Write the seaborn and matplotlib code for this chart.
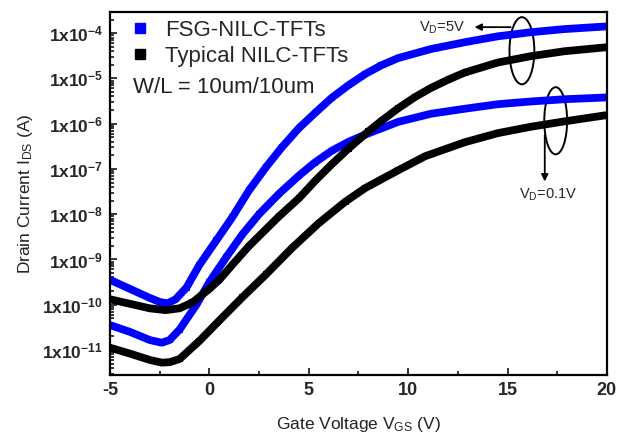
import numpy as np
import pandas as pd
import seaborn as sns
import matplotlib
matplotlib.use('Agg')
import matplotlib.pyplot as plt
from matplotlib.patches import Ellipse
from matplotlib.lines import Line2D
from matplotlib.ticker import LogLocator, MultipleLocator, FixedLocator, NullFormatter

# gate voltage / log10(I_DS) values
fsg_5v_vg = [-5, -4, -3, -2.5, -2.1, -1.7, -1.15, -0.5, 0.35, 1.15, 2, 2.85, 3.65, 4.5,
             5.35, 6.15, 7, 7.85, 8.65, 9.5, 11.15, 12.85, 14.5, 16.15, 17.85, 20]
fsg_5v_log = [-9.45, -9.65, -9.85, -9.94, -9.97, -9.88, -9.62, -9.12, -8.58, -8.07, -7.47,
              -6.96, -6.52, -6.1, -5.75, -5.43, -5.15, -4.9, -4.71, -4.55, -4.35, -4.2,
              -4.07, -3.98, -3.91, -3.85]

fsg_01v_vg = [-5, -4, -3, -2.4, -2, -1.5, -0.65, 0, 0.85, 1.65, 2.5, 3.5, 4.5, 5.3, 6.15,
              7, 7.85, 9.5, 11.15, 12.85, 14.5, 16.15, 17.85, 20]
fsg_01v_log = [-10.45, -10.6, -10.78, -10.84, -10.78, -10.55, -10.0, -9.5, -8.95, -8.45,
               -8.0, -7.55, -7.15, -6.86, -6.6, -6.4, -6.24, -5.96, -5.78, -5.67, -5.57,
               -5.51, -5.46, -5.42]

typ_5v_vg = [-5, -4, -3, -2.2, -1.5, -0.85, 0, 0.5, 1.15, 2, 3.5, 4.5, 5.35, 6.15, 7,
             8, 8.65, 9.5, 10.35, 11.15, 12, 12.85, 14.5, 16.15, 17.85, 20]
typ_5v_log = [-9.88, -9.98, -10.08, -10.12, -10.08, -9.95, -9.65, -9.45, -9.12, -8.7,
              -8.05, -7.65, -7.25, -6.9, -6.55, -6.17, -5.94, -5.66, -5.41, -5.21, -5.03,
              -4.87, -4.65, -4.51, -4.4, -4.31]

typ_01v_vg = [-5, -4, -3, -2.4, -2, -1.5, -0.5, 0.5, 1.65, 2.85, 4.15, 5.5, 6.85, 7.85,
              9.5, 10.85, 12.85, 14.5, 16.15, 17.85, 20]
typ_01v_log = [-10.95, -11.08, -11.22, -11.28, -11.27, -11.2, -10.8, -10.35, -9.84, -9.33,
               -8.75, -8.2, -7.72, -7.42, -7.03, -6.72, -6.41, -6.21, -6.07, -5.95, -5.81]

ytick_exps = [-11, -10, -9, -8, -7, -6, -5, -4]
xticks = [-5, 0, 5, 10, 15, 20]

sns.set_style('ticks')
plt.rcParams['font.family'] = ['Liberation Sans', 'DejaVu Sans']
plt.rcParams['mathtext.fontset'] = 'custom'
plt.rcParams['mathtext.rm'] = 'Liberation Sans'
plt.rcParams['mathtext.it'] = 'Liberation Sans:italic'
plt.rcParams['mathtext.bf'] = 'Liberation Sans:bold'

fig = plt.figure(figsize=(6.18, 4.41), dpi=100)
ax = fig.add_axes([0.178, 0.150, 0.804, 0.823])

blue = '#0000ff'
series = [(fsg_5v_vg, fsg_5v_log, blue), (fsg_01v_vg, fsg_01v_log, blue),
          (typ_5v_vg, typ_5v_log, 'black'), (typ_01v_vg, typ_01v_log, 'black')]
for vg, lg, c in series:
    df = pd.DataFrame({'vg': vg, 'ids': 10.0 ** np.array(lg)})
    sns.lineplot(data=df, x='vg', y='ids', ax=ax, color=c, lw=5.6, marker='s',
                 markersize=5, markeredgewidth=0, solid_capstyle='butt',
                 solid_joinstyle='round')

ax.set_yscale('log')
ax.set_xlim(-5, 20)
ax.set_ylim(10 ** -11.55, 10 ** -3.53)

ax.yaxis.set_major_locator(FixedLocator([10.0 ** e for e in ytick_exps]))
ax.set_yticklabels([r'$\mathbf{1x10^{%d}}$' % e for e in ytick_exps], fontsize=12.5)
ax.yaxis.set_minor_locator(LogLocator(base=10, subs=np.arange(2, 10)))
ax.yaxis.set_minor_formatter(NullFormatter())
ax.set_xticks(xticks)
ax.set_xticklabels([str(v) for v in xticks], fontsize=13, fontweight='bold')
ax.xaxis.set_minor_locator(MultipleLocator(2.5))

ax.tick_params(which='both', direction='in', width=1.3, top=False, right=False)
ax.tick_params(which='major', length=5, pad=5)
ax.tick_params(which='minor', length=3)
for s in ax.spines.values():
    s.set_linewidth(1.6)
    s.set_color('black')

ax.set_xlabel(r'Gate Voltage V$_{\rm GS}$ (V)', fontsize=12.5, labelpad=12, color='#222222')
ax.set_ylabel(r'Drain Current I$_{\rm DS}$ (A)', fontsize=12.5, labelpad=5, color='#222222')

handles = [Line2D([], [], ls='none', marker='s', color=blue, markersize=7),
           Line2D([], [], ls='none', marker='s', color='black', markersize=7)]
ax.legend(handles, ['FSG-NILC-TFTs', 'Typical NILC-TFTs'], loc='upper left',
          bbox_to_anchor=(0.042, 0.978), frameon=False, fontsize=16, handlelength=0.8,
          handletextpad=0.75, labelspacing=0.22, borderaxespad=0, borderpad=0)
ax.text(0.046, 0.791, 'W/L = 10um/10um', transform=ax.transAxes, fontsize=16,
        ha='left', va='center', color='#222222')

ax.add_patch(Ellipse((0.829, 0.893), 0.050, 0.185, transform=ax.transAxes,
                     fill=False, ec='black', lw=1.4))
ax.add_patch(Ellipse((0.897, 0.700), 0.046, 0.185, transform=ax.transAxes,
                     fill=False, ec='black', lw=1.4))
ax.annotate('', xy=(0.728, 0.958), xytext=(0.812, 0.958), xycoords='axes fraction',
            arrowprops=dict(arrowstyle='-|>', color='black', lw=1.3, mutation_scale=10))
ax.annotate('', xy=(0.875, 0.525), xytext=(0.875, 0.668), xycoords='axes fraction',
            arrowprops=dict(arrowstyle='-|>', color='black', lw=1.3, mutation_scale=10))
ax.text(0.715, 0.955, r'V$_{\rm D}$=5V', transform=ax.transAxes, fontsize=10.5,
        ha='right', va='center')
ax.text(0.882, 0.497, r'V$_{\rm D}$=0.1V', transform=ax.transAxes, fontsize=10.5,
        ha='center', va='center')

fig.savefig('out.png', dpi=100)
